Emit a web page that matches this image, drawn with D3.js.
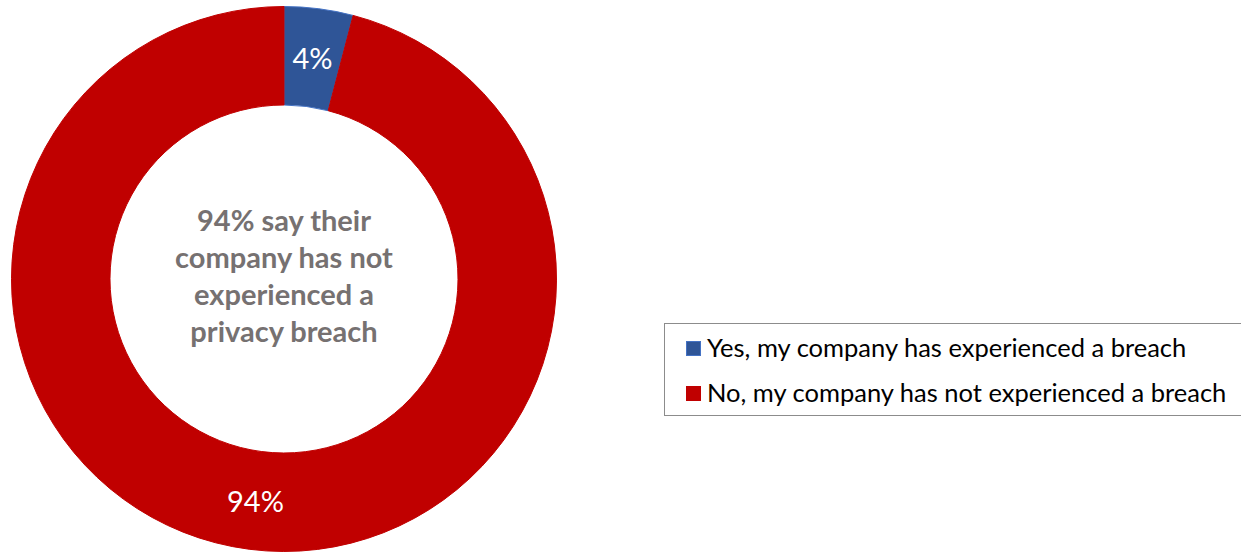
<!DOCTYPE html>
<html>
<head>
<meta charset="utf-8">
<script src="https://cdn.jsdelivr.net/npm/d3@7"></script>
<style>
  html, body { margin: 0; padding: 0; background: #ffffff; }
  svg { display: block; }
</style>
</head>
<body>
<svg id="chart" width="1241" height="552"></svg>
<script>
// Survey answers and their shares (percent)
const categories = [
  "Yes, my company has experienced a breach",
  "No, my company has not experienced a breach"
];
const values = [4, 94];
const valueLabels = ["4%", "94%"];
const colors = ["#2F5597", "#C00000"];
const strokeColors = ["#4472C4", "#C00000"];
const centerLines = ["94% say their", "company has not", "experienced a", "privacy breach"];

const svg = d3.select("#chart");
const font = "Lato, 'Open Sans', sans-serif";

const cx = 284, cy = 279;
const outerR = 272.5, innerR = 174;

const pie = d3.pie().sort(null).value(d => d.value);
const arcs = pie(categories.map((c, i) => ({ name: c, value: values[i], i })));
const arc = d3.arc().innerRadius(innerR).outerRadius(outerR);

const g = svg.append("g").attr("transform", `translate(${cx},${cy})`);

g.selectAll("path.slice")
  .data(arcs)
  .join("path")
  .attr("class", "slice")
  .attr("d", arc)
  .attr("fill", d => colors[d.data.i])
  .attr("stroke", d => strokeColors[d.data.i])
  .attr("stroke-width", 1);

// Value labels at the middle of each ring segment
g.selectAll("text.val")
  .data(arcs)
  .join("text")
  .attr("class", "val")
  .attr("x", d => arc.centroid(d)[0])
  .attr("y", d => arc.centroid(d)[1])
  .attr("text-anchor", "middle")
  .attr("dominant-baseline", "central")
  .attr("fill", "#ffffff")
  .style("font-family", font)
  .style("font-size", "29px")
  .text(d => valueLabels[d.data.i]);

// Text in the hole of the donut
const lineH = 37;
g.append("g")
  .selectAll("text")
  .data(centerLines)
  .join("text")
  .attr("x", 0)
  .attr("y", (d, i) => (i - (centerLines.length - 1) / 2) * lineH + 7.5)
  .attr("text-anchor", "middle")
  .attr("fill", "#767171")
  .style("font-family", font)
  .style("font-weight", "bold")
  .style("font-size", "29px")
  .text(d => d);

// Legend
const legend = svg.append("g");
legend.append("rect")
  .attr("x", 664.5).attr("y", 323.5)
  .attr("width", 600).attr("height", 92)
  .attr("fill", "#ffffff")
  .attr("stroke", "#8c8c8c")
  .attr("stroke-width", 1);

const items = legend.selectAll("g.item")
  .data(categories)
  .join("g")
  .attr("class", "item")
  .attr("transform", (d, i) => `translate(686, ${356 + i * 45})`);

items.append("rect")
  .attr("x", 0.5).attr("y", -14.5)
  .attr("width", 14).attr("height", 14)
  .attr("fill", (d, i) => colors[i])
  .attr("stroke", (d, i) => strokeColors[i])
  .attr("stroke-width", 1);

items.append("text")
  .attr("x", 21)
  .attr("y", 1)
  .attr("fill", "#000000")
  .style("font-family", font)
  .style("font-size", "25.5px")
  .text(d => d);
</script>
</body>
</html>
